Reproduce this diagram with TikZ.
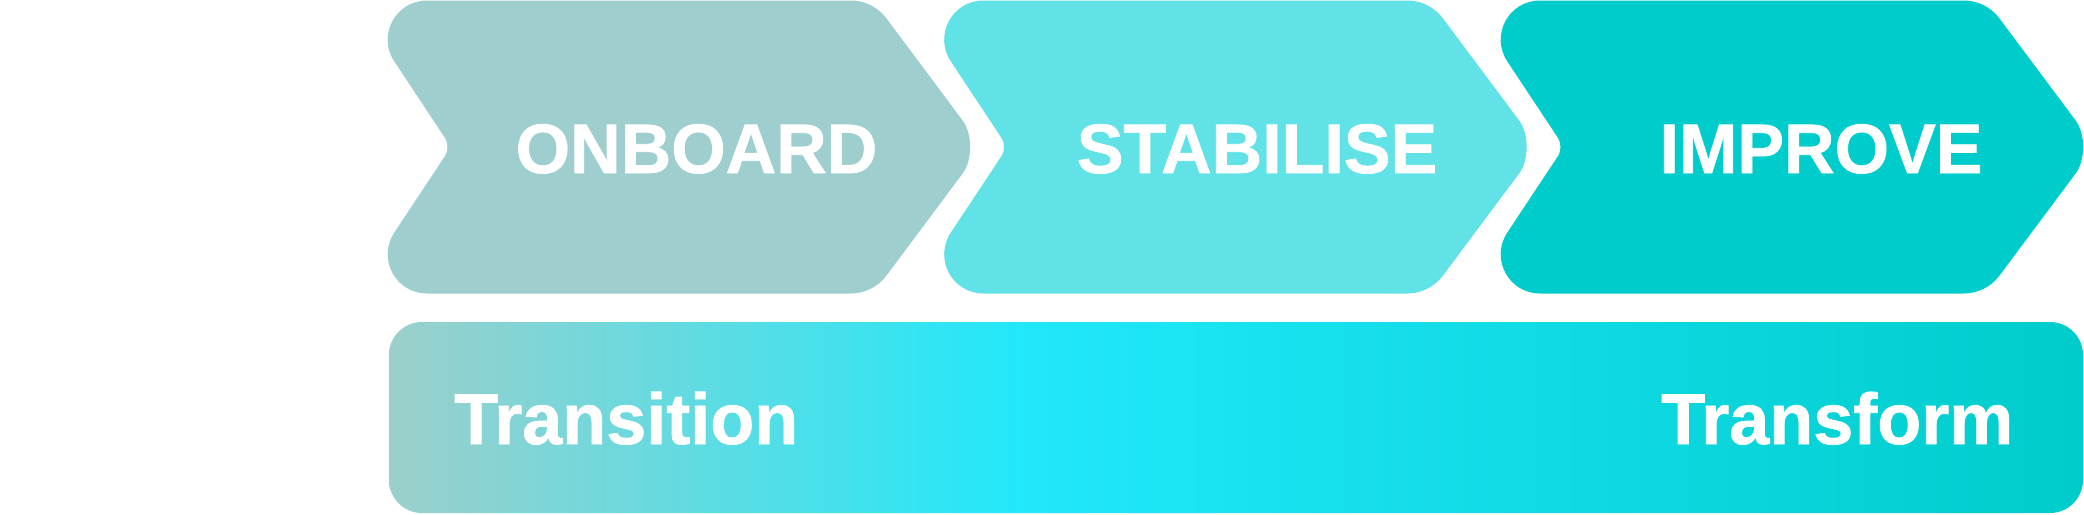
\documentclass[tikz,border=0pt]{standalone}
\usepackage{fontspec}
\setmainfont{Liberation Sans}[BoldFeatures={FakeBold=1}]
\usetikzlibrary{calc}
\definecolor{chevA}{HTML}{9ECECE}
\definecolor{chevB}{HTML}{60E2E6}
\definecolor{chevC}{HTML}{00CCCC}
\definecolor{barL}{HTML}{9CCFCB}
\definecolor{barM}{HTML}{20E8FA}
\definecolor{barR}{HTML}{00CCCC}
\pgfdeclarehorizontalshading{barshade}{100bp}{color(0bp)=(barL); color(25bp)=(barL); color(43.8bp)=(barM); color(75bp)=(barR); color(100bp)=(barR)}
\newcommand\chevshape[3]{%
  \begin{scope}[shift={(#2,0)}]
    \coordinate (#1tr) at (519,0.5);
    \coordinate (#1tip) at (628.5,147);
    \coordinate (#1br) at (519,293.5);
    \coordinate (#1bl) at (0,293.5);
    \coordinate (#1nt) at (97,147);
    \coordinate (#1tl) at (0,0.5);
    \coordinate (#1a) at (73,0.5);
    \coordinate (#1b) at (497,0.5);
    \coordinate (#1c) at (532.2,18.1);
    \coordinate (#1d) at (608.7,120.6);
    \coordinate (#1e) at (608.7,173.4);
    \coordinate (#1f) at (532.2,275.9);
    \coordinate (#1g) at (497,293.5);
    \coordinate (#1h) at (73,293.5);
    \coordinate (#1i) at (40.3,232.6);
    \coordinate (#1j) at (91.5,155.3);
    \coordinate (#1k) at (91.5,138.7);
    \coordinate (#1l) at (40.3,61.4);
  \end{scope}
  \fill[#3] (#1a) -- (#1b)
    .. controls ($(#1b)!0.62!(#1tr)$) and ($(#1c)!0.62!(#1tr)$) .. (#1c)
    -- (#1d)
    .. controls ($(#1d)!0.5!(#1tip)$) and ($(#1e)!0.5!(#1tip)$) .. (#1e)
    -- (#1f)
    .. controls ($(#1f)!0.62!(#1br)$) and ($(#1g)!0.62!(#1br)$) .. (#1g)
    -- (#1h)
    .. controls ($(#1h)!0.43!(#1bl)$) and ($(#1i)!0.43!(#1bl)$) .. (#1i)
    -- (#1j)
    .. controls ($(#1j)!0.47!(#1nt)$) and ($(#1k)!0.47!(#1nt)$) .. (#1k)
    -- (#1l)
    .. controls ($(#1l)!0.43!(#1tl)$) and ($(#1a)!0.43!(#1tl)$) .. (#1a)
    -- cycle;
}
\tikzset{
  phase/.style={text=white, font=\bfseries\fontsize{70}{80}\selectfont, inner sep=0pt, anchor=base},
  band/.style={text=white, font=\bfseries\fontsize{72}{82}\selectfont, inner sep=0pt},
}
\begin{document}
\begin{tikzpicture}[x=1pt,y=-1pt]
  \useasboundingbox (0,0) rectangle (2084,514);
  \fill[white] (0,0) rectangle (2084,514);
  % phase chevrons
  \chevshape{cA}{354}{chevA}
  \chevshape{cB}{910.5}{chevB}
  \chevshape{cC}{1467}{chevC}
  \node[phase] (onboard) at (696.5,173) {ONBOARD};
  \node[phase] (stabilise) at (1257,173) {STABILISE};
  \node[phase] (improve) at (1821,173) {IMPROVE};
  % band
  \shade[shading=barshade, rounded corners=33pt] (389,322) rectangle (2083,513);
  \node[band, anchor=base west] (transition) at (454,444) {Transition};
  \node[band, anchor=base west] (transform) at (1661,444) {Transform};
\end{tikzpicture}
\end{document}
